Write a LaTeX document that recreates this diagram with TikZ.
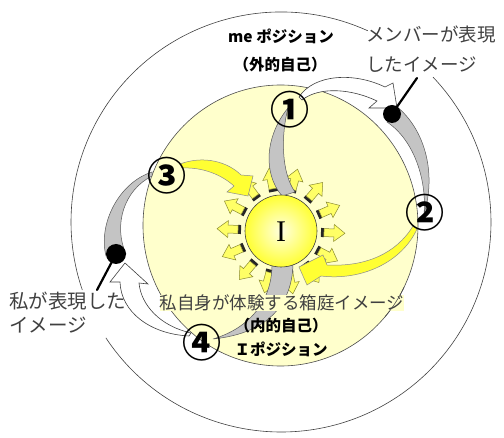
\documentclass[tikz,border=0pt]{standalone}
\usepackage{fontspec}
\newfontfamily\jp{Noto Sans CJK JP}
\newfontfamily\serifI{Liberation Serif}
\definecolor{innerYellow}{HTML}{FFFFCC}
\definecolor{bandGray}{HTML}{C4C4C4}
\definecolor{arrowYellow}{HTML}{FFFF33}
\definecolor{smallYellow}{HTML}{FFFF66}
\definecolor{smallEdge}{HTML}{8A8A30}
\definecolor{minchoGray}{HTML}{404040}
\tikzset{
  ringline/.style={draw=black!75, line width=0.6pt},
  grayband/.style={fill=bandGray, draw=black!65, line width=0.5pt},
  yelarrow/.style={fill=arrowYellow, draw=black!45, line width=0.5pt},
  whitearrow/.style={fill=white, draw=black!75, line width=0.6pt},
  smallarr/.style={fill=smallYellow, draw=smallEdge, line width=0.5pt},
  numlabel/.style={inner sep=0pt, font=\jp\bfseries\fontsize{39}{39}\selectfont},
  gothic/.style={inner sep=0pt, font=\jp\bfseries\fontsize{15.5}{18}\selectfont},
  mincho/.style={inner sep=0pt, text=minchoGray, align=left},
  pointer/.style={line width=2.2pt, line cap=round}
}
\begin{document}
\begin{tikzpicture}[x=1pt,y=-1pt]
\useasboundingbox (0,0) rectangle (504,438);
% outer ring (gaps where the labels sit)
\coordinate (oc) at (281,222);
\draw[ringline] ([shift={(65.6:210pt)}]oc) arc[start angle=65.6, end angle=198.9, radius=210pt];
\draw[ringline] ([shift={(213.5:210pt)}]oc) arc[start angle=213.5, end angle=403.6, radius=210pt];
% inner yellow disc
\coordinate (ic) at (280.5,225.5);
\draw[fill=innerYellow, draw=black!70, line width=0.6pt] (ic) ellipse[x radius=137.5pt, y radius=140.5pt];
% small radiating arrows
\foreach \a in {75,49.3,23.6,-2.1,-27.9,-53.6,-79.3,-105,-130.7,-156.4,177.9,152.1,126.4,100.7}{
  \begin{scope}[shift={(281,231)}, rotate=\a]
    \fill[black!85] (40,-4.5) rectangle (43,4.5);
    \draw[smallarr] (43,-4) -- (53,-4) -- (53,-8.5) -- (64,0) -- (53,8.5) -- (53,4) -- (43,4) -- cycle;
  \end{scope}
}
% gray bands
\draw[grayband] (288,108) .. controls (266,135) and (262,172) .. (282,196) -- (295,192) .. controls (281,172) and (281,135) .. (288,108) -- cycle;
\draw[grayband] (396,106) .. controls (424,128) and (437,172) .. (424,214) .. controls (427,180) and (414,140) .. (387,122) -- cycle;
\draw[grayband] (152,172) .. controls (118,183) and (98,225) .. (106,256) -- (126,254) .. controls (113,225) and (124,190) .. (152,176) -- cycle;
\draw[grayband] (293,262) .. controls (293,300) and (272,333) .. (213,339) .. controls (250,328) and (273,300) .. (272,262) -- cycle;
% central I
\shade[inner color=white!70!yellow!40, outer color=yellow!80] (281,231) circle[radius=36pt];
\draw[black!75, line width=0.6pt] (281,231) circle[radius=36pt];
\node[font=\serifI\fontsize{30}{30}\selectfont, inner sep=0pt] (I) at (281,232) {I};
% yellow arrows
\draw[yelarrow] (180,164) .. controls (204,155) and (228,162) .. (241,175) -- (253,176) -- (248,196) -- (227,192) -- (234,186) .. controls (222,175) and (203,167) .. (182,168) -- cycle;
\draw[yelarrow] (413,226) .. controls (396,254) and (365,267) .. (327,265) -- (323,255) -- (299,267) -- (307,285) -- (321,276) .. controls (362,281) and (402,262) .. (417,229) -- cycle;
% white arrows
\draw[whitearrow] (299,97) .. controls (314,74) and (354,72) .. (385,87) -- (393,83) -- (397,108) -- (369,108) -- (377,101) .. controls (352,89) and (320,86) .. (302,100) -- cycle;
\draw[whitearrow] (189,336) .. controls (150,334) and (121,312) .. (120,282) -- (110,282) -- (125,263) -- (148,284) -- (139,283) .. controls (141,305) and (160,326) .. (191,333) -- cycle;
% black dots and pointers
\fill (392,114) circle[radius=9pt];
\coordinate (dotR) at (392,114);
\coordinate (tipR) at (417,78);
\draw[pointer] (dotR) -- (tipR);
\fill (116,254) circle[radius=10pt];
\coordinate (dotL) at (116,254);
\coordinate (tipL) at (97,290);
\draw[pointer] (dotL) -- (tipL);
% circled numbers
\node[numlabel] (n1) at (290,110) {①};
\node[numlabel] (n2) at (425,213) {②};
\node[numlabel] (n3) at (167,176) {③};
\node[numlabel] (n4) at (202,343) {④};
% labels
\node[gothic] (me) at (281,36) {me ポジション};
\node[gothic] (ext) at (280,65) {（外的自己）};
\node[mincho, anchor=west, font=\jp\fontsize{18.5}{30}\selectfont] (mem) at (366,49) {メンバーが表現\\したイメージ};
\node[mincho, anchor=west, font=\jp\fontsize{19.5}{24}\selectfont] (mine) at (9,313) {私が表現した\\イメージ};
\node[mincho, fill=innerYellow, font=\jp\fontsize{17.5}{20}\selectfont] (hako) at (282,303) {私自身が体験する箱庭イメージ};
\begin{scope}
  \clip (385,288) rectangle (425,318);
  \draw[black!70, line width=0.6pt] (ic) ellipse[x radius=137.5pt, y radius=140.5pt];
\end{scope}
\node[gothic] (int) at (281,326) {（内的自己）};
\node[gothic] (ipos) at (281,349) {Ｉポジション};
\end{tikzpicture}
\end{document}
